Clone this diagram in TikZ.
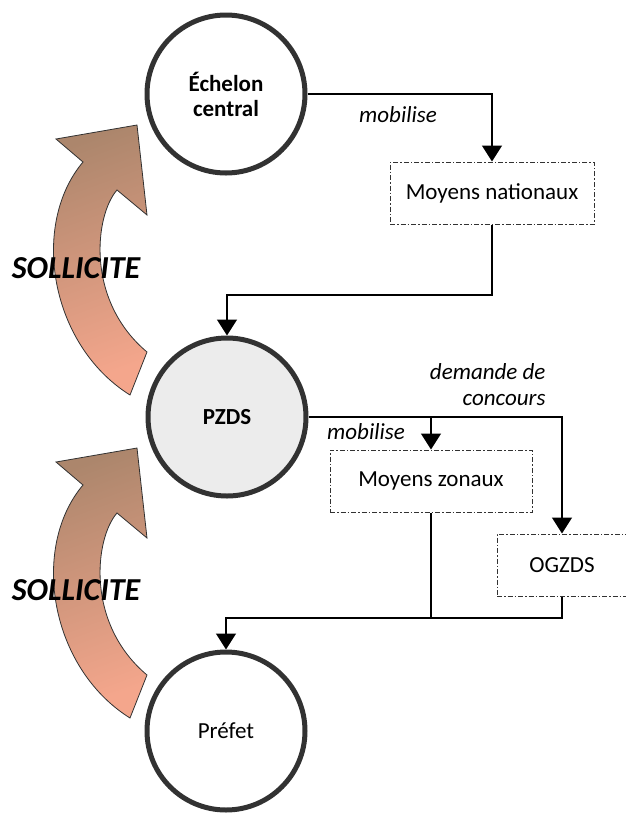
\documentclass[tikz,border=0pt]{standalone}
\usepackage{fontspec}
\setmainfont{Carlito}
\usetikzlibrary{arrows.meta,positioning,shapes}

\definecolor{traitgris}{RGB}{50,50,50}
\definecolor{fondpzds}{RGB}{236,236,236}
\definecolor{flechehaut}{RGB}{172,134,108}
\definecolor{flechebas}{RGB}{244,166,140}

\tikzset{
  fleche courbe/.pic={
    \draw[draw=traitgris,line width=0.8pt,top color=flechehaut,bottom color=flechebas,shading angle=20]
      (137,125) -- (147,215) -- (117,190)
      .. controls (95,215) and (85,300) .. (147,352)
      -- (130,395)
      .. controls (50,345) and (30,225) .. (83,162)
      -- (56,139) -- cycle;
  }
}

\begin{document}
\begin{tikzpicture}[x=1pt,y=-1pt,>={Triangle[width=20pt,length=16pt]},
    acteur/.style={circle,draw=traitgris,line width=5pt,minimum size=158pt,inner sep=0pt,
                   align=center,font=\fontsize{23}{25}\selectfont},
    moyens/.style={draw=traitgris,line width=1pt,dash pattern=on 5pt off 2pt on 1.5pt off 2pt,
                   minimum height=62pt,inner sep=0pt,font=\fontsize{23}{26}\selectfont},
    lien/.style={line width=1.4pt,draw=black},
    etiquette/.style={font=\fontsize{23}{26}\selectfont\itshape,align=right},
    sollicite/.style={font=\fontsize{32}{34}\selectfont\bfseries\itshape}]

    \useasboundingbox (0,0) rectangle (625,815);

    % grosses fleches
    \pic at (0,0) {fleche courbe};
    \pic at (0,323) {fleche courbe};
    \node[sollicite] (soll1) at (76,268) {SOLLICITE};
    \node[sollicite] (soll2) at (76,590) {SOLLICITE};

    % acteurs
    \node[acteur,font=\fontsize{23}{25}\selectfont\bfseries] (ech) at (226,94) {Échelon\\central};
    \node[acteur,fill=fondpzds,font=\fontsize{23}{25}\selectfont\bfseries] (pzds) at (227,417) {PZDS};
    \node[acteur] (prefet) at (226,731) {Préfet};

    % moyens
    \node[moyens,minimum width=204pt] (nat) at (492,193) {Moyens nationaux};
    \node[moyens,minimum width=202pt] (zon) at (431,481) {Moyens zonaux};
    \node[moyens,minimum width=130pt] (ogzds) at (562,565) {OGZDS};

    \coordinate (coude1) at (400,295);
    \coordinate (jonc) at (431,618);

    % liens
    \draw[lien,->] (ech.east) -| (nat.north);
    \draw[lien,->] (nat.south) |- (coude1) -| (pzds.north);
    \draw[lien,->] (pzds.east) -| (ogzds.north);
    \draw[lien,->] (zon.north |- pzds.east) -- (zon.north);
    \draw[lien] (zon.south) -- (jonc);
    \draw[lien] (ogzds.south) |- (jonc);
    \draw[lien,->] (jonc) -| (prefet.north);

    \node[etiquette] (mob1) at (398,115) {mobilise};
    \node[etiquette] (mob2) at (366,432) {mobilise};
    \node[etiquette,anchor=east] (demande) at (549,385) {demande de\\concours};
\end{tikzpicture}
\end{document}
